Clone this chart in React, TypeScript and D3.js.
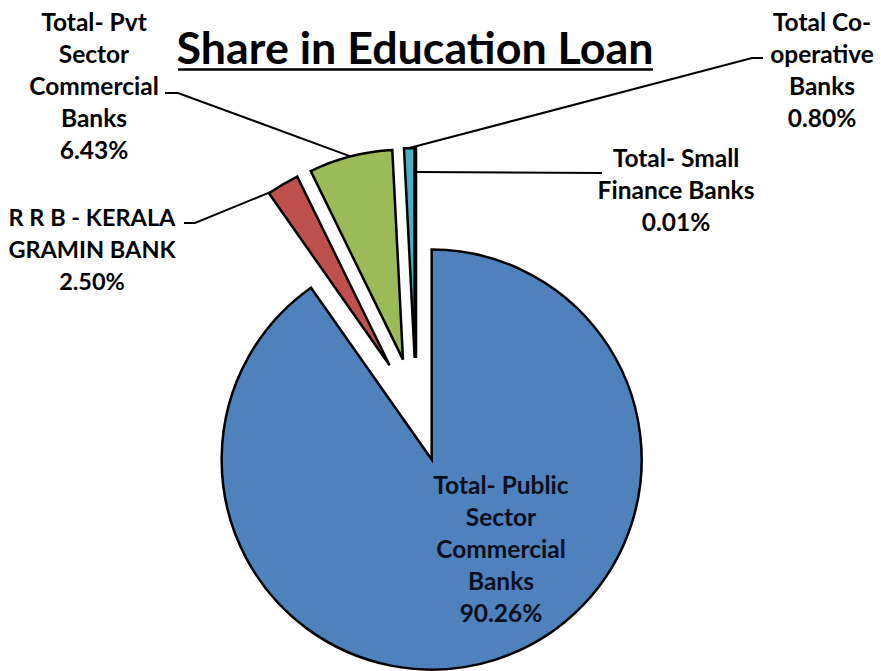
import React from "react";
import * as d3 from "d3";

const categories = [
  "Total- Public Sector Commercial Banks",
  "R R B - KERALA GRAMIN BANK",
  "Total- Pvt Sector Commercial Banks",
  "Total Co-operative Banks",
  "Total- Small Finance Banks",
];
const shares = [90.26, 2.5, 6.43, 0.8, 0.01];
const labelLines = [
  ["Total- Public", "Sector", "Commercial", "Banks", "90.26%"],
  ["R R B - KERALA", "GRAMIN BANK", "2.50%"],
  ["Total- Pvt", "Sector", "Commercial", "Banks", "6.43%"],
  ["Total Co-", "operative", "Banks", "0.80%"],
  ["Total- Small", "Finance Banks", "0.01%"],
];
const colors = ["#4F81BD", "#C0504D", "#9BBB59", "#4BACC6", "#8064A2"];
const title = "Share in Education Loan";

const W = 881;
const H = 671;
const cx = 416;
const cy = 410;
const R = 210;
const explode = 52;
const font = "Lato, 'Open Sans', sans-serif";
const lineH = 32;

const labelPos = [
  { x: 501, y: 485 },
  { x: 92, y: 218 },
  { x: 94, y: 22 },
  { x: 822, y: 22 },
  { x: 676, y: 158 },
];

export default function App() {
  const pie = d3
    .pie<number>()
    .sort(null)
    .value((d) => d)
    .startAngle(0)
    .endAngle(2 * Math.PI);
  const arcs = pie(shares);
  const arcGen = d3.arc<d3.PieArcDatum<number>>().innerRadius(0).outerRadius(R);

  const offset = (a: d3.PieArcDatum<number>) => {
    const m = (a.startAngle + a.endAngle) / 2;
    return [explode * Math.sin(m), -explode * Math.cos(m)];
  };
  const pointAt = (a: d3.PieArcDatum<number>, frac: number, r: number) => {
    const [ox, oy] = offset(a);
    const ang = a.startAngle + (a.endAngle - a.startAngle) * frac;
    return [cx + ox + r * Math.sin(ang), cy + oy - r * Math.cos(ang)];
  };

  const leaders = [
    { i: 1, from: [184, 223], stub: [195, 223], frac: 0.08, r: R },
    { i: 2, from: [165, 93], stub: [178, 93], frac: 0.5, r: R },
    { i: 3, from: [763, 58], stub: [752, 58], frac: 0.5, r: R },
    { i: 4, from: [602, 173], stub: [602, 173], frac: 0.5, r: 186 },
  ];

  return (
    <svg
      width={W}
      height={H}
      style={{ position: "absolute", left: 0, top: 0, background: "#fff" }}
    >
      <rect width={W} height={H} fill="#fff" />
      <text
        x={415}
        y={64}
        textAnchor="middle"
        fontFamily={font}
        fontWeight="bold"
        fontSize={44.8}
        fill="#000"
      >
        {title}
      </text>
      <line x1={178} x2={653} y1={69.5} y2={69.5} stroke="#000" strokeWidth={2.5} />

      {arcs.map((a, i) => {
        const [ox, oy] = offset(a);
        return (
          <path
            key={categories[i]}
            d={arcGen(a) || ""}
            transform={`translate(${cx + ox},${cy + oy})`}
            fill={colors[i]}
            stroke="#000"
            strokeWidth={2.5}
            strokeLinejoin="miter"
          />
        );
      })}

      {leaders.map((l) => {
        const [tx, ty] = pointAt(arcs[l.i], l.frac, l.r);
        return (
          <polyline
            key={"leader" + l.i}
            points={`${l.from[0]},${l.from[1]} ${l.stub[0]},${l.stub[1]} ${tx},${ty}`}
            fill="none"
            stroke="#000"
            strokeWidth={2}
          />
        );
      })}

      {labelLines.map((lines, i) => (
        <text
          key={"lbl" + i}
          textAnchor="middle"
          fontFamily={font}
          fontWeight="bold"
          fontSize={i === 1 ? 23.5 : 24.5}
          fill={i === 0 ? "#0a1020" : "#000"}
        >
          {lines.map((t, j) => (
            <tspan
              key={j}
              x={labelPos[i].x}
              y={labelPos[i].y + j * lineH}
              dy="0.35em"
            >
              {t}
            </tspan>
          ))}
        </text>
      ))}
    </svg>
  );
}
